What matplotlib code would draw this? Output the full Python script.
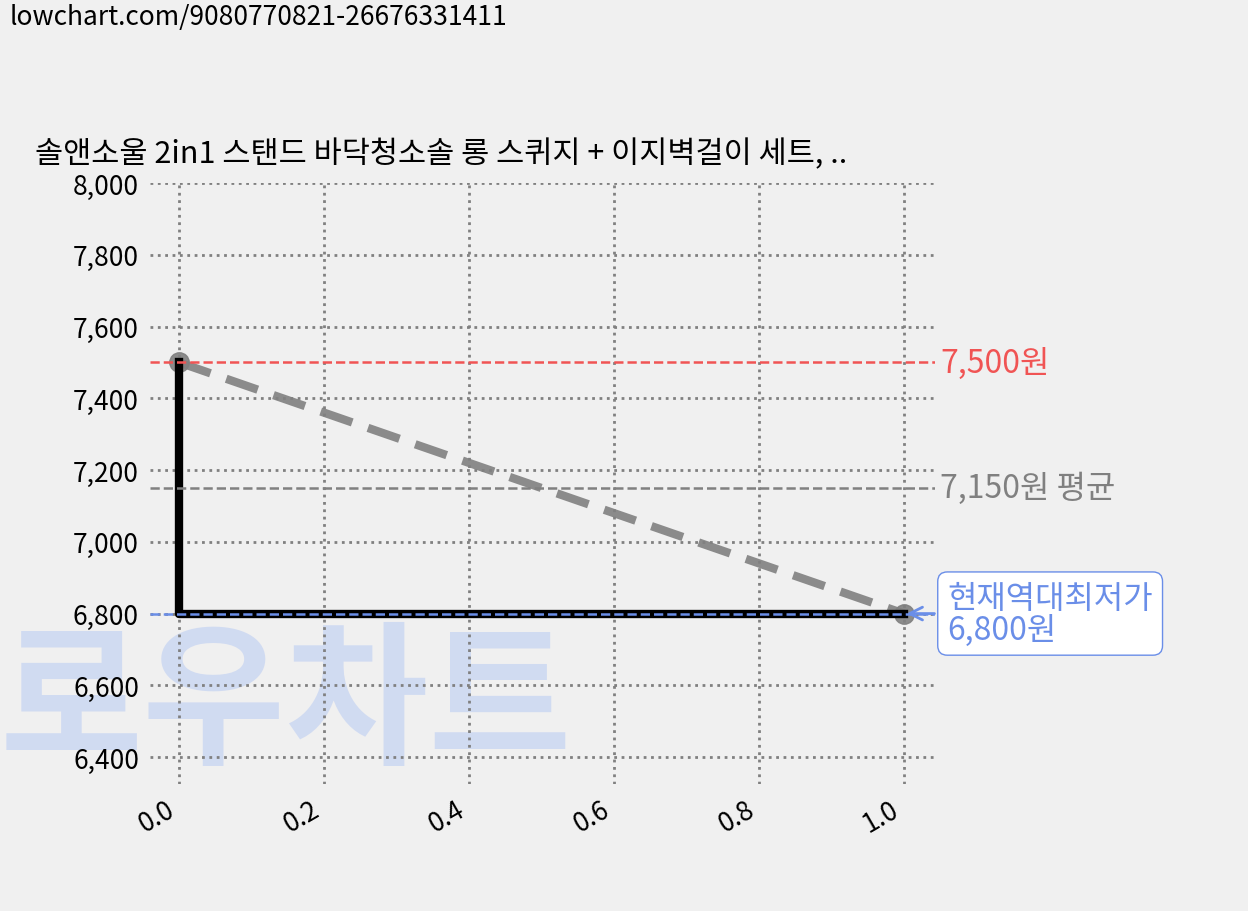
import matplotlib.pyplot as plt

plt.rcParams['font.family'] = ['Noto Sans CJK KR', 'DejaVu Sans']

x_vals = [0.0, 1.0]
prices = [7500, 6800]
max_price = 7500
avg_price = 7150
min_price = 6800
title = "솔앤소울 2in1 스탠드 바닥청소솔 롱 스퀴지 + 이지벽걸이 세트, .."
url = "lowchart.com/9080770821-26676331411"

fig = plt.figure(figsize=(12.48, 9.12), dpi=100, facecolor="#f0f0f0")
ax = fig.add_axes([150/1248, 1-785/912, 785/1248, 601/912])
ax.set_facecolor("none")

# watermark
wm = fig.text(0.0, 1-752/912, "로우차트", fontsize=112, fontweight="black",
              color="#c9d6f2", alpha=0.8)
wm.set_zorder(-1)

ax.grid(True, linestyle=":", color="gray", linewidth=2)
for s in ax.spines.values():
    s.set_visible(False)
ax.tick_params(length=0, labelsize=19, pad=8)

ax.plot(x_vals, prices, "--", color="gray", linewidth=6, dashes=(4, 2),
        marker="o", markersize=14, alpha=0.9)
ax.plot(x_vals, prices, drawstyle="steps-pre", color="black", linewidth=6)

ax.axhline(max_price, color="#f05454", linestyle="--", linewidth=1.8)
ax.axhline(avg_price, color="gray", linestyle="--", linewidth=1.8)
ax.axhline(min_price, color="#6a8ee8", linestyle="--", linewidth=1.8)

ax.text(1.05, max_price, f"{max_price:,}원", color="#f05454", fontsize=23, va="center")
ax.text(1.05, avg_price, f"{avg_price:,}원 평균", color="gray", fontsize=23, va="center")
ax.annotate(f"현재역대최저가\n{min_price:,}원", xy=(1.0, min_price), xytext=(1.06, min_price),
            color="#6a8ee8", fontsize=23, va="center", linespacing=1.0,
            bbox=dict(boxstyle="round,pad=0.3", fc="white", ec="#6a8ee8"),
            arrowprops=dict(arrowstyle="->", color="#6a8ee8", lw=2))

ax.set_xlim(-0.04, 1.043)
ax.set_ylim(6325, 8000)
ax.set_yticks(range(6400, 8001, 200))
ax.set_yticklabels([f"{v:,}" for v in range(6400, 8001, 200)])
ax.set_xticks([0, 0.2, 0.4, 0.6, 0.8, 1.0])
ax.set_xticklabels(["0.0", "0.2", "0.4", "0.6", "0.8", "1.0"], rotation=30, ha="right")

fig.text(35/1248, 1-155/912, title, fontsize=22, va="center")
fig.text(10/1248, 1-18/912, url, fontsize=19, va="center")

fig.savefig("out.png", dpi=100, facecolor=fig.get_facecolor())
